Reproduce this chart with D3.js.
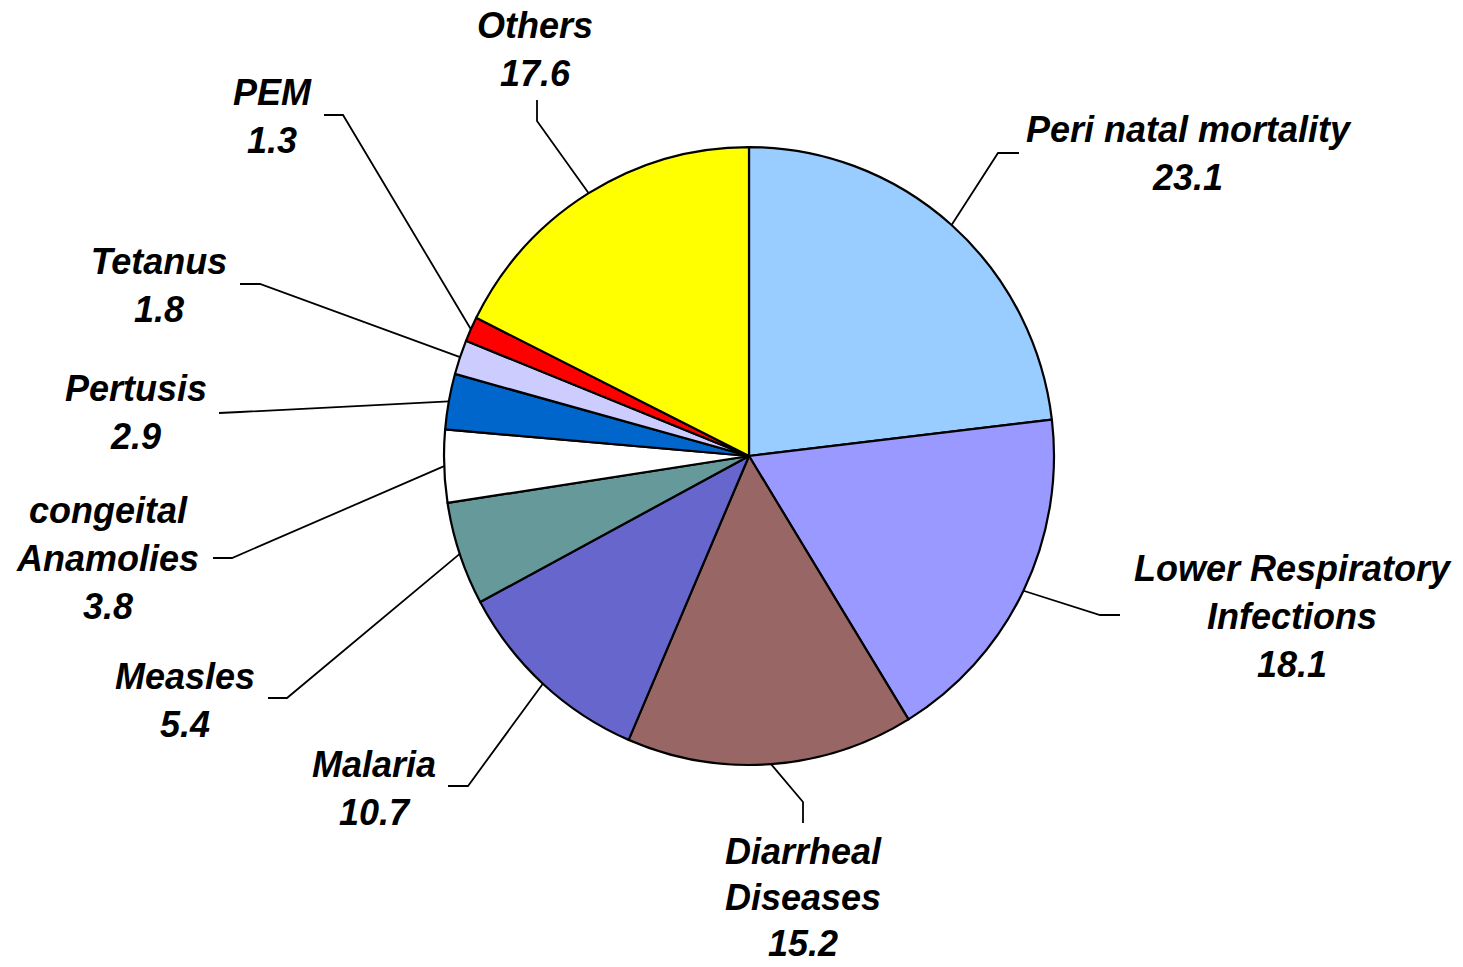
<!DOCTYPE html>
<html>
<head>
<meta charset="utf-8">
<script src="https://cdn.jsdelivr.net/npm/d3@7"></script>
<style>
    body { margin: 0; background: #fff; }
    .label { font-family: "Liberation Sans", Arial, sans-serif; font-weight: bold; font-style: italic; font-size: 36px; fill: #000; }
</style>
</head>
<body>
<script>
//wrap everything in a self-executing anonymous function
(function(){

//chart data
var categories = ["Peri natal mortality", "Lower Respiratory Infections", "Diarrheal Diseases", "Malaria", "Measles", "congeital Anamolies", "Pertusis", "Tetanus", "PEM", "Others"];
var values = [23.1, 18.1, 15.2, 10.7, 5.4, 3.8, 2.9, 1.8, 1.3, 17.6];
//label text lines for each category (the value is added as the last line)
var labelLines = [
    ["Peri natal mortality"],
    ["Lower Respiratory", "Infections"],
    ["Diarrheal", "Diseases"],
    ["Malaria"],
    ["Measles"],
    ["congeital", "Anamolies"],
    ["Pertusis"],
    ["Tetanus"],
    ["PEM"],
    ["Others"]
];
var colors = ["#99CCFF", "#9999FF", "#996666", "#6666CC", "#669999", "#FFFFFF", "#0066CC", "#CCCCFF", "#FF0000", "#FFFF00"];

//label layout: text centre x, first baseline y, line gap, leader elbow and leader end
var labelLayout = [
    {x: 1188, y: 142, gap: 48, elbow: [998, 153], end: [1019, 153]},
    {x: 1292, y: 581, gap: 48, elbow: [1100, 615], end: [1120, 615]},
    {x: 803, y: 864, gap: 46, elbow: [803, 802], end: [803, 823]},
    {x: 374, y: 777, gap: 48, elbow: [468, 786], end: [448, 786]},
    {x: 185, y: 689, gap: 48, elbow: [287, 698], end: [268, 698]},
    {x: 108, y: 523, gap: 48, elbow: [232, 558], end: [213, 558]},
    {x: 136, y: 401, gap: 48, elbow: [240, 412], end: [219, 413]},
    {x: 159, y: 274, gap: 48, elbow: [260, 284], end: [240, 284]},
    {x: 272, y: 105, gap: 48, elbow: [343, 115], end: [324, 115]},
    {x: 535, y: 38, gap: 48, elbow: [537, 121], end: [537, 100]}
];

window.onload = setChart();

function setChart(){

    //frame dimensions
    var width = 1463,
        height = 967,
        cx = 749,
        cy = 456,
        radius = 305,
        yStretch = 1.013; //the original pie is very slightly taller than wide

    var svg = d3.select("body")
        .append("svg")
        .attr("width", width)
        .attr("height", height);

    //pie layout, clockwise from 12 o'clock, keeping data order
    var pie = d3.pie()
        .sort(null)
        .value(function(d){ return d; });

    var arc = d3.arc()
        .innerRadius(0)
        .outerRadius(radius);

    var arcs = pie(values);

    var g = svg.append("g")
        .attr("transform", "translate(" + cx + "," + cy + ") scale(1," + yStretch + ")");

    //slices
    g.selectAll(".slice")
        .data(arcs)
        .enter()
        .append("path")
        .attr("class", "slice")
        .attr("d", arc)
        .style("fill", function(d, i){ return colors[i]; })
        .style("stroke", "#000")
        .style("stroke-width", 2.2)
        .style("stroke-linejoin", "round");

    //leader lines from slice mid-angle on the rim to the label
    svg.selectAll(".leader")
        .data(arcs)
        .enter()
        .append("polyline")
        .attr("class", "leader")
        .attr("points", function(d, i){
            var mid = (d.startAngle + d.endAngle) / 2;
            var sx = cx + radius * Math.sin(mid),
                sy = cy - radius * yStretch * Math.cos(mid);
            var lay = labelLayout[i];
            return [[sx, sy], lay.elbow, lay.end].map(function(p){ return p.join(","); }).join(" ");
        })
        .style("fill", "none")
        .style("stroke", "#000")
        .style("stroke-width", 1.8);

    //labels
    var labels = svg.selectAll(".label")
        .data(arcs)
        .enter()
        .append("text")
        .attr("class", "label")
        .attr("text-anchor", "middle")
        .attr("x", function(d, i){ return labelLayout[i].x; })
        .attr("y", function(d, i){ return labelLayout[i].y; });

    labels.each(function(d, i){
        var lay = labelLayout[i];
        var lines = labelLines[i].concat([d3.format(".1f")(d.data)]);
        var t = d3.select(this);
        lines.forEach(function(line, j){
            t.append("tspan")
                .attr("x", lay.x)
                .attr("y", lay.y + j * lay.gap)
                .text(line);
        });
    });
};

})();
</script>
</body>
</html>
